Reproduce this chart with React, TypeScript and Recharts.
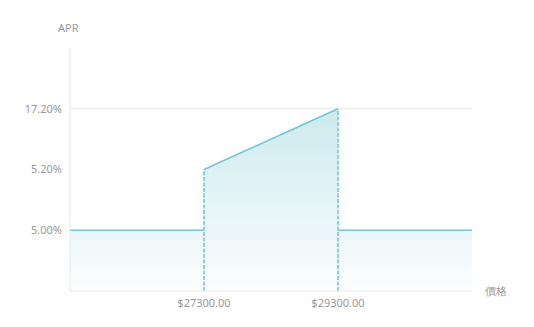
import { ComposedChart, Area, Line, XAxis, YAxis, ReferenceLine } from 'recharts';

const prices = [25300, 27300, 27300, 29300, 29300, 31300];
const aprs = [5.0, 5.0, 5.2, 17.2, 5.0, 5.0];
const aprTicks = [5.0, 5.2, 17.2];
const priceTicks = [27300, 29300];

// the y axis spaces the APR levels evenly, so each value is drawn at its rank
const level = (v: number) => aprTicks.indexOf(v) + 1;

const data = prices.map((p, i) => ({ price: p, lv: level(aprs[i]) }));

// solid pieces between the jumps, dashed verticals at the jumps
const segments: { price: number; lv: number }[][] = [];
const jumps: { price: number; top: number }[] = [];
for (let i = 0; i < data.length - 1; i++) {
  if (data[i].price === data[i + 1].price) {
    jumps.push({ price: data[i].price, top: Math.max(data[i].lv, data[i + 1].lv) });
  } else {
    segments.push([data[i], data[i + 1]]);
  }
}

const STROKE = '#72c6d2';
const TEXT = '#999';
const AXIS = '#e6e6e6';

export default function App() {
  return (
    <div style={{ position: 'absolute', left: 0, top: 0, width: 534, height: 327, fontFamily: '"Noto Sans", sans-serif' }}>
      <ComposedChart width={534} height={327} data={data} margin={{ top: 48, right: 62, bottom: 6, left: 10 }}>
        <defs>
          <linearGradient id="aprFill" x1="0" y1="0" x2="0" y2="1">
            <stop offset="0%" stopColor="#8fd0da" stopOpacity={0.45} />
            <stop offset="100%" stopColor="#8fd0da" stopOpacity={0.03} />
          </linearGradient>
        </defs>
        <XAxis
          dataKey="price"
          type="number"
          domain={[prices[0], prices[prices.length - 1]]}
          ticks={priceTicks}
          tickFormatter={(v) => `$${Number(v).toFixed(2)}`}
          tick={{ fill: TEXT, fontSize: 11 }}
          tickLine={false}
          axisLine={{ stroke: AXIS }}
          height={30}
        />
        <YAxis
          type="number"
          domain={[0, aprTicks.length + 1]}
          ticks={aprTicks.map(level)}
          tickFormatter={(v) => `${aprTicks[Number(v) - 1].toFixed(2)}%`}
          tick={{ fill: TEXT, fontSize: 11 }}
          tickLine={false}
          axisLine={{ stroke: AXIS }}
          width={60}
        />
        <ReferenceLine y={level(aprTicks[aprTicks.length - 1])} stroke={AXIS} />
        <Area
          type="linear"
          dataKey="lv"
          stroke="none"
          fill="url(#aprFill)"
          fillOpacity={1}
          isAnimationActive={false}
          dot={false}
          activeDot={false}
        />
        {segments.map((s, i) => (
          <Line
            key={i}
            data={s}
            type="linear"
            dataKey="lv"
            stroke={STROKE}
            strokeWidth={1.5}
            dot={false}
            activeDot={false}
            isAnimationActive={false}
          />
        ))}
        {jumps.map((j, i) => (
          <ReferenceLine
            key={`j${i}`}
            segment={[
              { x: j.price, y: 0 },
              { x: j.price, y: j.top },
            ]}
            stroke="#7ccfda"
            strokeWidth={1.8}
            strokeDasharray="4 1.5"
          />
        ))}
      </ComposedChart>
      <div style={{ position: 'absolute', left: 58, top: 20, fontSize: 11, color: TEXT }}>APR</div>
      <div style={{ position: 'absolute', left: 485, top: 283, fontSize: 11, color: TEXT }}>價格</div>
    </div>
  );
}
